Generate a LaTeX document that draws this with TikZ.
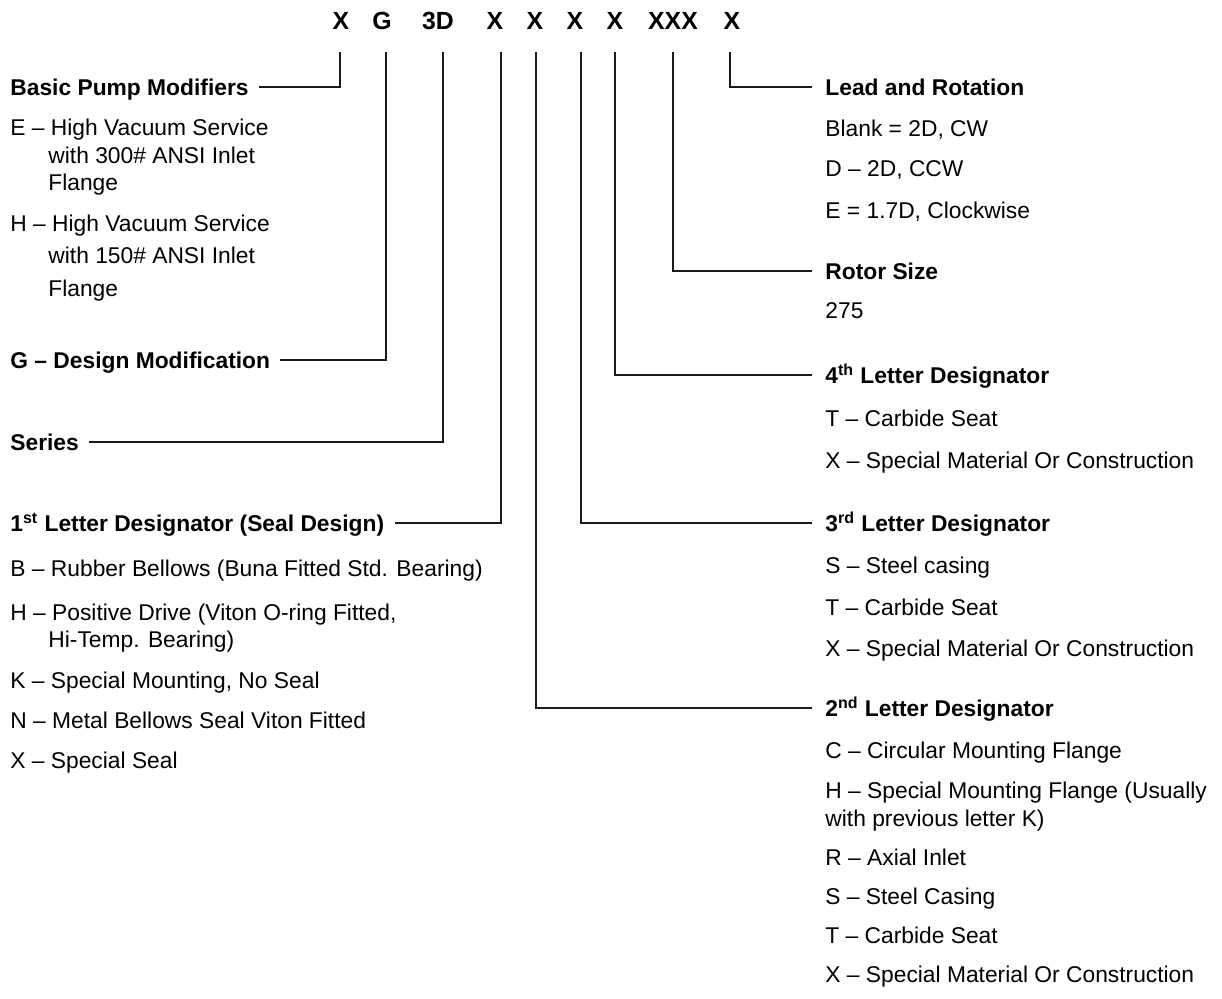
\documentclass[tikz,border=0pt]{standalone}
\usepackage{fontspec}
\setmainfont{Liberation Sans}
\usetikzlibrary{positioning}
\definecolor{hookline}{HTML}{1A1A1A}
\newcommand{\keysize}{\fontsize{11.4pt}{14pt}\selectfont}
\newcommand{\codesize}{\fontsize{12.4pt}{15pt}\selectfont}
\tikzset{
  head/.style={anchor=west, inner sep=0pt, font=\keysize\bfseries, text height=8.2pt, text depth=0pt},
  entry/.style={anchor=west, inner sep=0pt, font=\keysize, text height=8.2pt, text depth=0pt},
  code/.style={inner sep=0pt, font=\codesize\bfseries, text height=8.9pt, text depth=0pt},
  hook/.style={draw=hookline, line width=0.65pt},
}

\begin{document}
\begin{tikzpicture}[x=0.5pt, y=-0.5pt]
  \useasboundingbox (0,0) rectangle (1222,998);
  % model code along the top
  \foreach \i/\x/\t in {1/341/X,2/382/G,3/438/3D,4/495/X,5/535/X,6/575/X,7/615/X,8/673/XXX,9/732/X}
    \node[code] (k\i) at (\x,21) {\t};
  \foreach \i/\x in {1/340,2/386,3/443,4/501,5/536,6/581,7/615,8/673,9/730}
    \coordinate (top\i) at (\x,52);

  % left column
  \node[head]  (basic)  at (10,87)  {Basic Pump Modifiers};
  \node[entry] (bpmE)   at (10,127) {E – High Vacuum Service};
  \node[entry] (bpmEa)  at (48,155) {with 300\# ANSI Inlet};
  \node[entry] (bpmEb)  at (48,182) {Flange};
  \node[entry] (bpmH)   at (10,223) {H – High Vacuum Service};
  \node[entry] (bpmHa)  at (48,255) {with 150\# ANSI Inlet};
  \node[entry] (bpmHb)  at (48,288) {Flange};
  \node[head]  (design) at (10,360) {G – Design Modification};
  \node[head]  (series) at (10,442) {Series};
  \node[head]  (first)  at (10,523) {1\textsuperscript{st} Letter Designator (Seal Design)};
  \node[entry] (sealB)  at (10,568) {B – Rubber Bellows (Buna Fitted Std. Bearing)};
  \node[entry] (sealH)  at (10,612) {H – Positive Drive (Viton O-ring Fitted,};
  \node[entry] (sealHa) at (48,639) {Hi-Temp. Bearing)};
  \node[entry] (sealK)  at (10,680) {K – Special Mounting, No Seal};
  \node[entry] (sealN)  at (10,720) {N – Metal Bellows Seal Viton Fitted};
  \node[entry] (sealX)  at (10,760) {X – Special Seal};

  % right column
  \node[head]  (lead)   at (825,87)  {Lead and Rotation};
  \node[entry] (leadB)  at (825,128) {Blank = 2D, CW};
  \node[entry] (leadD)  at (825,168) {D – 2D, CCW};
  \node[entry] (leadE)  at (825,210) {E = 1.7D, Clockwise};
  \node[head]  (rotor)  at (825,271) {Rotor Size};
  \node[entry] (rotorA) at (825,310) {275};
  \node[head]  (fourth) at (825,375) {4\textsuperscript{th} Letter Designator};
  \node[entry] (fourT)  at (825,418) {T – Carbide Seat};
  \node[entry] (fourX)  at (825,460) {X – Special Material Or Construction};
  \node[head]  (third)  at (825,523) {3\textsuperscript{rd} Letter Designator};
  \node[entry] (thirdS) at (825,565) {S – Steel casing};
  \node[entry] (thirdT) at (825,607) {T – Carbide Seat};
  \node[entry] (thirdX) at (825,648) {X – Special Material Or Construction};
  \node[head]  (second) at (825,708) {2\textsuperscript{nd} Letter Designator};
  \node[entry] (secC)   at (825,750) {C – Circular Mounting Flange};
  \node[entry] (secH)   at (825,790) {H – Special Mounting Flange (Usually};
  \node[entry] (secHa)  at (825,818) {with previous letter K)};
  \node[entry] (secR)   at (825,857) {R – Axial Inlet};
  \node[entry] (secS)   at (825,896) {S – Steel Casing};
  \node[entry] (secT)   at (825,935) {T – Carbide Seat};
  \node[entry] (secX)   at (825,974) {X – Special Material Or Construction};

  % leader lines
  \foreach \i/\h in {1/basic,2/design,3/series,4/first}
    \draw[hook] (top\i) |- ([xshift=5pt]\h.east);
  \foreach \i/\h in {5/second,6/third,7/fourth,8/rotor,9/lead}
    \draw[hook] (top\i) |- ([xshift=-6.5pt]\h.west);
\end{tikzpicture}
\end{document}
